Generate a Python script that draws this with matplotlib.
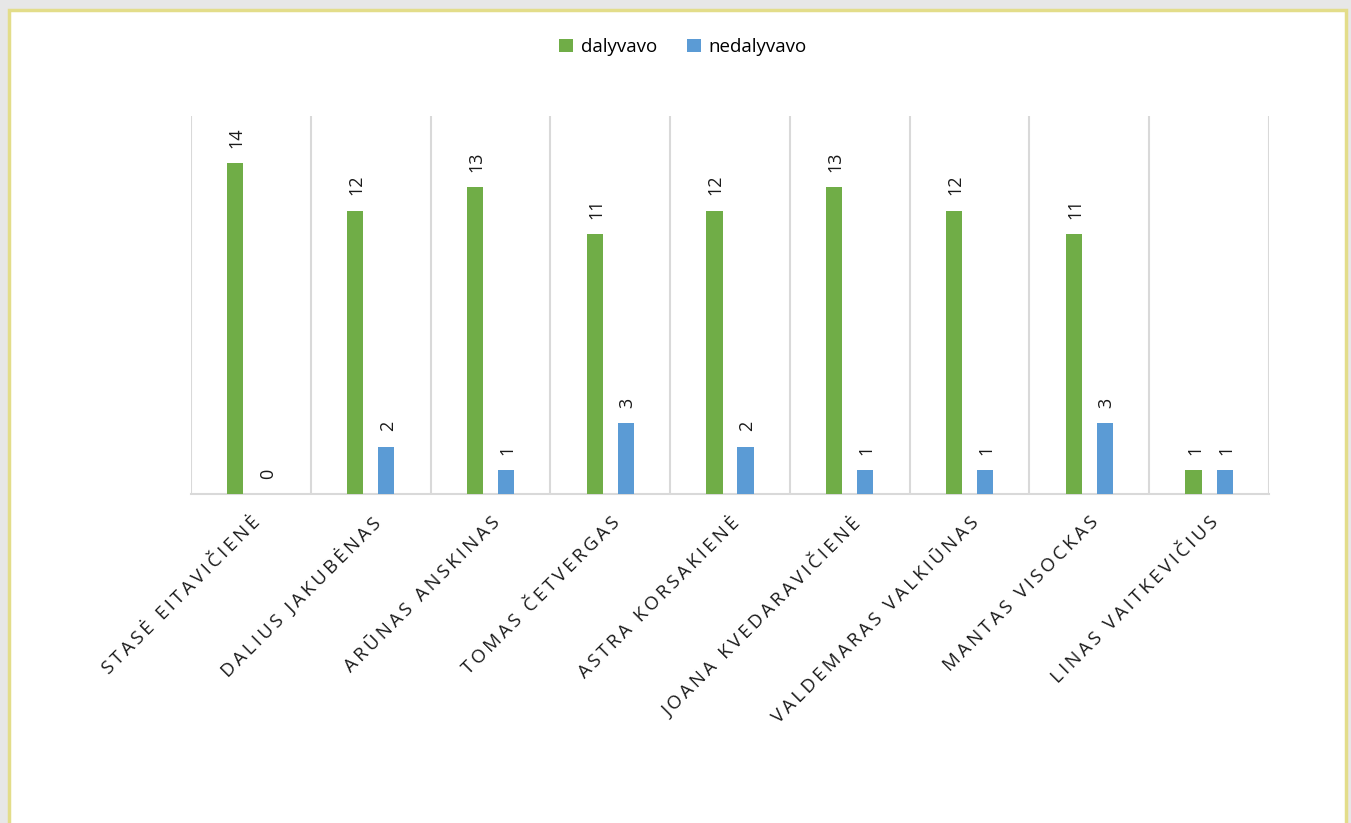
import matplotlib
matplotlib.use("Agg")
import matplotlib.pyplot as plt
from matplotlib.patches import Rectangle
import numpy as np

plt.rcParams['font.family'] = ['Open Sans', 'DejaVu Sans']

categories = ["STASĖ EITAVIČIENĖ", "DALIUS JAKUBĖNAS", "ARŪNAS ANSKINAS",
              "TOMAS ČETVERGAS", "ASTRA KORSAKIENĖ", "JOANA KVEDARAVIČIENĖ",
              "VALDEMARAS VALKIŪNAS", "MANTAS VISOCKAS", "LINAS VAITKEVIČIUS"]
dalyvavo = [14, 12, 13, 11, 12, 13, 12, 11, 1]
nedalyvavo = [0, 2, 1, 3, 2, 1, 1, 3, 1]
series_names = ["dalyvavo", "nedalyvavo"]
colors = ["#70AD47", "#5B9BD5"]

W, H = 1351, 823
fig = plt.figure(figsize=(W / 100, H / 100), dpi=100)
fig.patch.set_facecolor("#E7E7E7")
# white chart area with yellow border
fig.patches.append(Rectangle((9 / W, -0.05), (1346 - 9) / W, 1 - 10 / H + 0.05,
                             transform=fig.transFigure, facecolor="white",
                             edgecolor="#E3DD8A", linewidth=2.5, zorder=-5))

ax = fig.add_axes([191 / W, 1 - 494 / H, (1269 - 191) / W, (494 - 116) / H])
ax.set_facecolor("none")
ax.set_zorder(2)
x = np.arange(len(categories))
bw = 0.135
off = 0.13
b1 = ax.bar(x - off, dalyvavo, bw, color=colors[0], label=series_names[0], zorder=3)
b2 = ax.bar(x + off, nedalyvavo, bw, color=colors[1], label=series_names[1], zorder=3)

for bars, vals in ((b1, dalyvavo), (b2, nedalyvavo)):
    for rect, v in zip(bars, vals):
        ax.annotate(str(v), (rect.get_x() + rect.get_width() / 2, v),
                    xytext=(1, 11), textcoords="offset points", rotation=90,
                    ha="center", va="bottom", fontsize=13, color="#1a1a1a")

ax.set_xlim(-0.5, len(categories) - 0.5)
ax.set_ylim(0, 16)
ax.set_yticks([])
for s in ["top", "right", "left"]:
    ax.spines[s].set_visible(False)
ax.spines["bottom"].set_color("#D9D9D9")
ax.spines["bottom"].set_linewidth(1.5)
for b in np.arange(-0.5, len(categories), 1.0):
    ax.axvline(b, color="#D9D9D9", linewidth=1.5, zorder=1)

spaced = ["\u2009".join(list(c)) for c in categories]
ax.set_xticks(x)
ax.set_xticklabels(spaced, rotation=45, ha="right", va="top",
                   rotation_mode="anchor", fontsize=13.5, color="#1a1a1a")
ax.tick_params(axis="x", length=0, pad=14)

leg = fig.legend(handles=[b1, b2], labels=series_names, loc="center",
                 bbox_to_anchor=(683 / W, 1 - 47 / H), ncol=2, frameon=False,
                 fontsize=13.5, handlelength=0.75, handleheight=0.75,
                 handletextpad=0.4, columnspacing=1.6)

fig.savefig("out.png", dpi=100, facecolor=fig.get_facecolor())
